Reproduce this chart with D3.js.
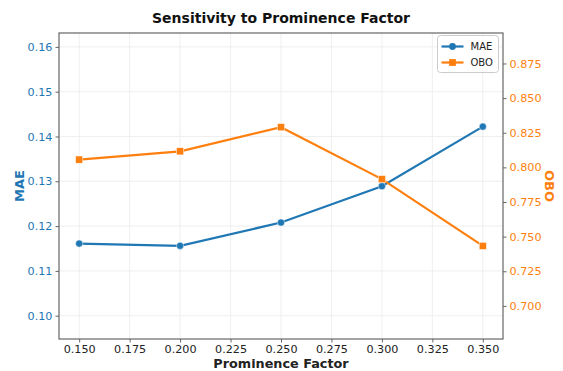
<!DOCTYPE html>
<html>
<head>
<meta charset="utf-8">
<script src="https://cdn.jsdelivr.net/npm/d3@7"></script>
<style>
  body { margin: 0; background: #fff; }
  svg { font-family: "DejaVu Sans", sans-serif; }
</style>
</head>
<body>
<div id="chart"></div>
<script>
// data
var factors = [0.15, 0.20, 0.25, 0.30, 0.35];
var maeValues = [0.1161, 0.1156, 0.1208, 0.1289, 0.1422];
var oboValues = [0.8056, 0.8116, 0.8290, 0.7915, 0.7433];
var xTicks = [0.150, 0.175, 0.200, 0.225, 0.250, 0.275, 0.300, 0.325, 0.350];
var maeTicks = [0.10, 0.11, 0.12, 0.13, 0.14, 0.15, 0.16];
var oboTicks = [0.700, 0.725, 0.750, 0.775, 0.800, 0.825, 0.850, 0.875];

var W = 563, H = 371;
var margin = {top: 33, right: 60, bottom: 32, left: 59};
var blue = "#1f77b4", orange = "#ff7f0e", spine = "#666";

var svg = d3.select("#chart").append("svg")
    .attr("width", W)
    .attr("height", H);

var x = d3.scaleLinear().domain([0.14, 0.36]).range([margin.left, W - margin.right]);
var yL = d3.scaleLinear().domain([0.0948, 0.1631]).range([H - margin.bottom, margin.top]);
var yR = d3.scaleLinear().domain([0.6761, 0.8970]).range([H - margin.bottom, margin.top]);

//grid lines
var grid = svg.append("g").attr("stroke", "#ebebeb").attr("stroke-width", 0.8);
grid.selectAll("line.vx").data(xTicks).enter().append("line")
    .attr("x1", function(d){ return x(d); }).attr("x2", function(d){ return x(d); })
    .attr("y1", margin.top).attr("y2", H - margin.bottom);
grid.selectAll("line.hy").data(maeTicks).enter().append("line")
    .attr("y1", function(d){ return yL(d); }).attr("y2", function(d){ return yL(d); })
    .attr("x1", margin.left).attr("x2", W - margin.right);

//axes
var xAxis = svg.append("g")
    .attr("transform", "translate(0," + (H - margin.bottom) + ")")
    .call(d3.axisBottom(x).tickValues(xTicks).tickFormat(d3.format(".3f")).tickSize(3.5).tickPadding(2.5));
xAxis.selectAll("text").attr("fill", "#222");

var leftAxis = svg.append("g")
    .attr("transform", "translate(" + margin.left + ",0)")
    .call(d3.axisLeft(yL).tickValues(maeTicks).tickFormat(d3.format(".2f")).tickSize(3.5).tickPadding(3));
leftAxis.selectAll("text").attr("fill", blue);

var rightAxis = svg.append("g")
    .attr("transform", "translate(" + (W - margin.right) + ",0)")
    .call(d3.axisRight(yR).tickValues(oboTicks).tickFormat(d3.format(".3f")).tickSize(3.5).tickPadding(3));
rightAxis.selectAll("text").attr("fill", orange);

[xAxis, leftAxis, rightAxis].forEach(function(g){
    g.attr("font-family", "DejaVu Sans").attr("font-size", 11.2);
    g.select(".domain").remove();
    g.selectAll(".tick line").attr("stroke", spine);
});

//frame
svg.append("rect")
    .attr("x", margin.left).attr("y", margin.top)
    .attr("width", W - margin.left - margin.right)
    .attr("height", H - margin.top - margin.bottom)
    .attr("fill", "none").attr("stroke", spine).attr("stroke-width", 1.2);

//series
var lineL = d3.line().x(function(d, i){ return x(factors[i]); }).y(function(d){ return yL(d); });
var lineR = d3.line().x(function(d, i){ return x(factors[i]); }).y(function(d){ return yR(d); });

svg.append("path").datum(maeValues).attr("d", lineL)
    .attr("fill", "none").attr("stroke", blue).attr("stroke-width", 2.2);
svg.selectAll("circle.mae").data(maeValues).enter().append("circle")
    .attr("cx", function(d, i){ return x(factors[i]); })
    .attr("cy", function(d){ return yL(d); })
    .attr("r", 3.6).attr("fill", blue).attr("stroke", "#fff").attr("stroke-width", 0.5);

svg.append("path").datum(oboValues).attr("d", lineR)
    .attr("fill", "none").attr("stroke", orange).attr("stroke-width", 2.2);
svg.selectAll("rect.obo").data(oboValues).enter().append("rect")
    .attr("x", function(d, i){ return x(factors[i]) - 3.6; })
    .attr("y", function(d){ return yR(d) - 3.6; })
    .attr("width", 7.2).attr("height", 7.2)
    .attr("fill", orange).attr("stroke", "#fff").attr("stroke-width", 0.5);

//legend
var lg = svg.append("g").attr("transform", "translate(437.5,35.5)");
lg.append("rect").attr("width", 61).attr("height", 37).attr("rx", 3)
    .attr("fill", "#fff").attr("fill-opacity", 0.85).attr("stroke", "#ccc");
var legendItems = [{name: "MAE", color: blue, shape: "circle"}, {name: "OBO", color: orange, shape: "square"}];
legendItems.forEach(function(item, i){
    var gy = 11 + i * 16;
    lg.append("line").attr("x1", 4).attr("x2", 26).attr("y1", gy).attr("y2", gy)
        .attr("stroke", item.color).attr("stroke-width", 2.2);
    if (item.shape === "circle") {
        lg.append("circle").attr("cx", 15).attr("cy", gy).attr("r", 3.4).attr("fill", item.color);
    } else {
        lg.append("rect").attr("x", 11.6).attr("y", gy - 3.4).attr("width", 6.8).attr("height", 6.8).attr("fill", item.color);
    }
    lg.append("text").attr("x", 33).attr("y", gy).attr("dy", "0.35em")
        .style("font-size", "10px").attr("fill", "#222").text(item.name);
});

//titles
svg.append("text").attr("x", 281).attr("y", 23).attr("text-anchor", "middle")
    .style("font-size", "14px").style("font-weight", "bold").attr("fill", "#111")
    .text("Sensitivity to Prominence Factor");
svg.append("text").attr("x", 281).attr("y", 367.5).attr("text-anchor", "middle")
    .style("font-size", "12.8px").style("font-weight", "bold").attr("fill", "#222")
    .text("Prominence Factor");
svg.append("text").attr("transform", "translate(24," + ((margin.top + H - margin.bottom) / 2) + ") rotate(-90)")
    .attr("text-anchor", "middle")
    .style("font-size", "13px").style("font-weight", "bold").attr("fill", blue)
    .text("MAE");
svg.append("text").attr("transform", "translate(545," + ((margin.top + H - margin.bottom) / 2) + ") rotate(90)")
    .attr("text-anchor", "middle")
    .style("font-size", "13px").style("font-weight", "bold").attr("fill", orange)
    .text("OBO");
</script>
</body>
</html>
